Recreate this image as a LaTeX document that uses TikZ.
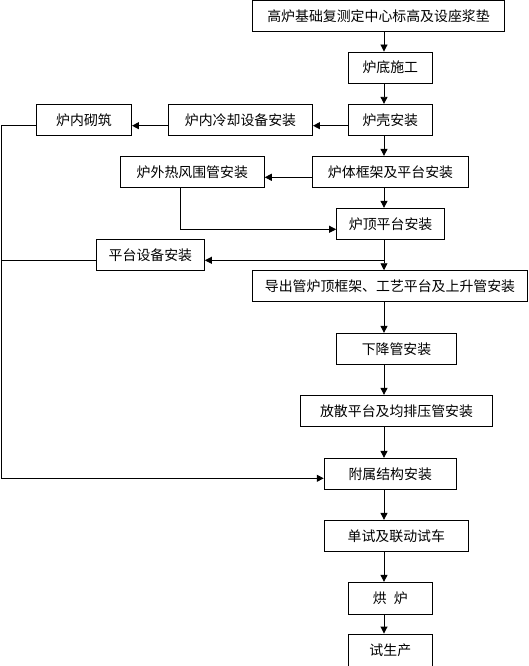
\documentclass[tikz,border=0pt]{standalone}
\usepackage{fontspec}
\setmainfont{Noto Sans CJK SC}
\usetikzlibrary{arrows.meta}

\begin{document}
\begin{tikzpicture}[x=1pt, y=-1pt,
    box/.style={draw, line width=0.9pt, minimum height=31pt, inner sep=0pt,
        font=\fontsize{13.9}{16}\selectfont},
    arr/.style={line width=0.9pt, -{Triangle[length=7pt,width=7pt]}},
    link/.style={line width=0.9pt}]
    % Frame
    \useasboundingbox (0,0) rectangle (528,666);
    \clip (0,0) rectangle (528,666);

    % Connector guides
    \coordinate (spine) at (384,0);
    \coordinate (lft) at (1,0);
    \coordinate (drop) at (180.8,0);
    \coordinate (r1) at (0,125.7);
    \coordinate (r2) at (0,177.3);
    \coordinate (r3) at (0,229.3);
    \coordinate (r4) at (0,260.3);
    \coordinate (r5) at (0,478.3);

    % Main sequence
    \node[box, minimum width=252pt] (jichu) at (378.5,16) {高炉基础复测定中心标高及设座浆垫};
    \node[box, minimum width=84pt] (ludi) at (390.3,67.5) {炉底施工};
    \node[box, minimum width=84pt] (luke) at (390.3,119.8) {炉壳安装};
    \node[box, minimum width=156pt] (kuangjia) at (390.5,171.8) {炉体框架及平台安装};
    \node[box, minimum width=108pt] (luding) at (390.6,223.8) {炉顶平台安装};
    \node[box, minimum width=275pt] (daochu) at (390,286.2) {导出管炉顶框架、工艺平台及上升管安装};
    \node[box, minimum width=119.5pt] (xiajiang) at (396.5,348.8) {下降管安装};
    \node[box, minimum width=192pt] (fangsan) at (396.5,410.8) {放散平台及均排压管安装};
    \node[box, minimum width=132pt] (fushu) at (390.2,473.8) {附属结构安装};
    \node[box, minimum width=144pt] (danshi) at (396.3,535.8) {单试及联动试车};
    \node[box, minimum width=84pt, minimum height=32pt] (honglu) at (390.3,598.3) {烘\hspace{0.5em}炉};
    \node[box, minimum width=84pt, minimum height=33pt] (shisheng) at (390.3,650.5) {试生产};

    % Side branches
    \node[box, minimum width=144pt] (lengque) at (240.5,119.8) {炉内冷却设备安装};
    \node[box, minimum width=95pt] (qizhu) at (84,119.8) {炉内砌筑};
    \node[box, minimum width=144pt] (weiguan) at (192.3,171.8) {炉外热风围管安装};
    \node[box, minimum width=108pt] (pingtai) at (150.4,254.8) {平台设备安装};

    % Spine arrows
    \draw[arr] (jichu.south -| spine) -- (ludi.north -| spine);
    \draw[arr] (ludi.south -| spine) -- (luke.north -| spine);
    \draw[arr] (luke.south -| spine) -- (kuangjia.north -| spine);
    \draw[arr] (kuangjia.south -| spine) -- (luding.north -| spine);
    \draw[arr] (luding.south -| spine) -- (daochu.north -| spine);
    \draw[arr] (daochu.south -| spine) -- (xiajiang.north -| spine);
    \draw[arr] (xiajiang.south -| spine) -- (fangsan.north -| spine);
    \draw[arr] (fangsan.south -| spine) -- (fushu.north -| spine);
    \draw[arr] (fushu.south -| spine) -- (danshi.north -| spine);
    \draw[arr] (danshi.south -| spine) -- (honglu.north -| spine);
    \draw[arr] (honglu.south -| spine) -- (shisheng.north -| spine);

    % Branch arrows
    \draw[arr] (luke.west |- r1) -- (lengque.east |- r1);
    \draw[arr] (lengque.west |- r1) -- (qizhu.east |- r1);
    \draw[arr] (kuangjia.west |- r2) -- (weiguan.east |- r2);
    \draw[arr] (weiguan.south -| drop) |- (luding.west |- r3);
    \draw[arr] (spine |- r4) -- (pingtai.east |- r4);

    % Return line on the left
    \draw[arr] (qizhu.west |- r1) -| (lft |- r5) -- (fushu.west |- r5);
    \draw[link] (pingtai.west |- r4) -- (lft |- r4);
\end{tikzpicture}
\end{document}
